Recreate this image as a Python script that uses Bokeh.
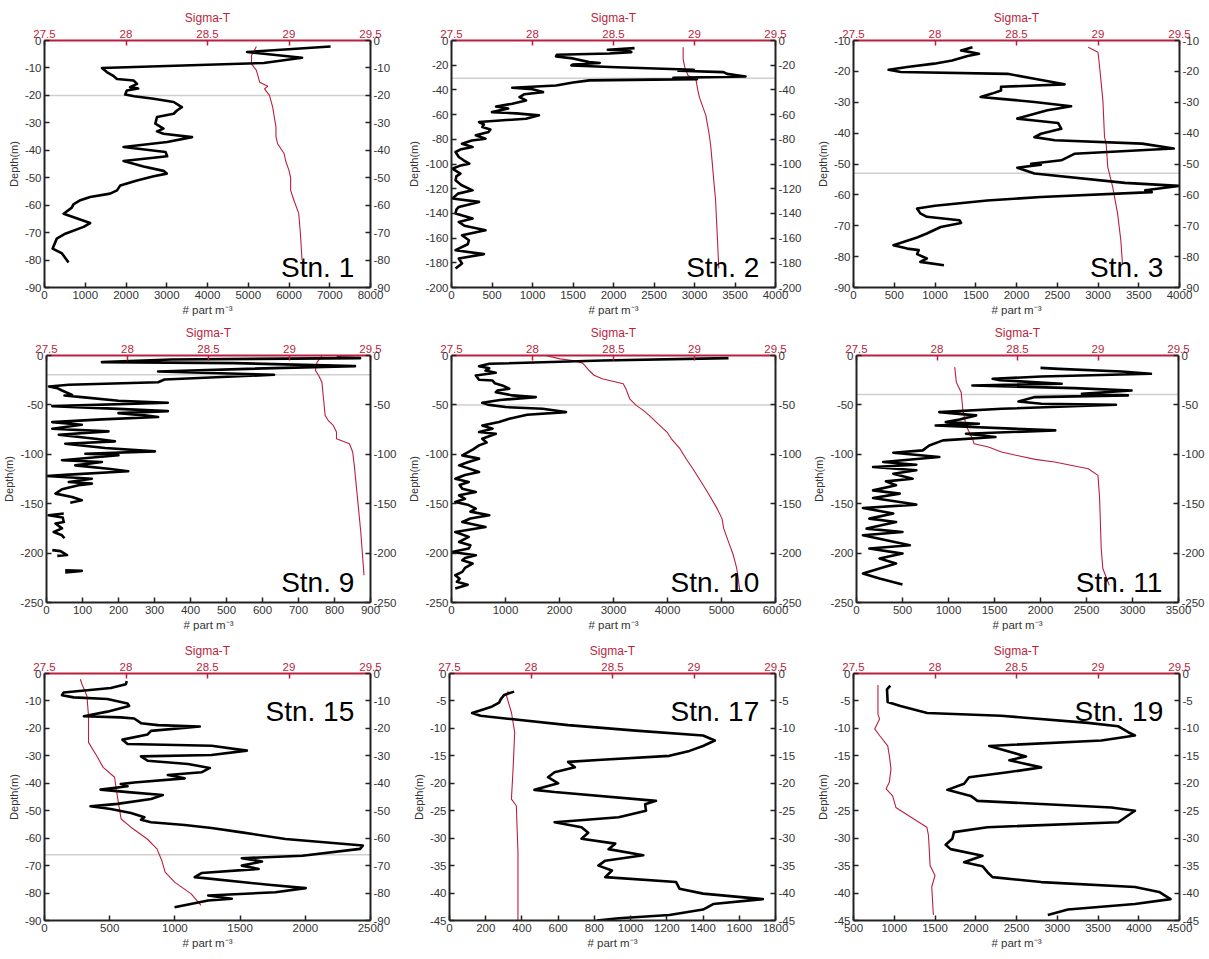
import numpy as np
from bokeh.plotting import figure
from bokeh.models import Range1d, LinearAxis, FixedTicker, CustomJSTickFormatter, Span, Label
from bokeh.layouts import column, row
from bokeh.embed import file_html
from bokeh.resources import INLINE

NAN = float("nan")

# ---------------- data ----------------
STATIONS = ["Stn. 1", "Stn. 2", "Stn. 3", "Stn. 9", "Stn. 10", "Stn. 11", "Stn. 15", "Stn. 17", "Stn. 19"]

stn1_depth = [-2.2, -4.2, -6.3, -8.2, -10.0, -11.5, -13.0, -14.0, -14.6, -15.8, -17.0, -17.5, -18.2, -19.7, -20.3, -21.2, -22.4, -24.3, -25.5, -26.7, -27.9, -30.3, -32.1, -33.1, -34.0, -35.2, -37.0, -38.8, -40.6, -42.2, -43.9, -45.9, -47.5, -48.5, -49.5, -51.0, -52.8, -54.6, -55.8, -57.0, -58.2, -59.7, -60.9, -63.1, -66.5, -67.9, -70.4, -72.2, -75.8, -77.6, -80.9]
stn1_conc = [7020, 4970, 6320, 5380, 1410, 1530, 1700, 1780, 2190, 2270, 2100, 2300, 2020, 1980, 2200, 2680, 3170, 3370, 3250, 3170, 2760, 2720, 2920, 2760, 2920, 3620, 3010, 1940, 2970, 3010, 1940, 2430, 2920, 3000, 2680, 2270, 1860, 1780, 1610, 1120, 880, 710, 670, 470, 1120, 960, 510, 300, 200, 430, 590]
stn1_sig_depth = [-2.2, -5.5, -8.5, -10.9, -13, -15.2, -16.7, -17.6, -20, -24.3, -28, -31.5, -35, -37.6, -41.2, -44, -47.3, -50, -54.6, -58.2, -63.1, -70.4, -80]
stn1_sig = [28.80, 28.77, 28.77, 28.80, 28.81, 28.82, 28.87, 28.85, 28.88, 28.90, 28.91, 28.92, 28.92, 28.93, 28.97, 28.98, 29.00, 29.01, 29.01, 29.03, 29.06, 29.07, 29.08]

stn2_depth = [-6.2, -7.5, -8.5, -9.4, -10.5, -11.5, -12.9, -14.5, -17.5, -18.2, -19.4, -20.2, -21.6, -23.7, -24.5, -25.6, -27, -29.1, -30.2, -31.3, -32.3, -34, -36.4, -38.3, -39.5, -41.8, -43.5, -45.8, -48.5, -51.2, -53.4, -55, -58, -59, -60.6, -63.3, -66, -68, -70, -72, -74, -76.8, -79.5, -81, -83.6, -86.3, -88, -90.3, -94.3, -97, -99.7, -101.5, -103.8, -107.8, -110, -113.2, -117, -121.3, -124, -128, -130.7, -134.8, -137, -140, -144.2, -146.9, -150, -153.6, -157.7, -161.7, -165, -169.8, -173, -176.5, -180.6, -184.6]
stn2_conc = [2260, 1930, 2200, 2220, 1950, 1300, 1290, 1500, 1700, 1830, 1500, 1480, 2040, 2990, 2800, 3360, 3400, 3630, 2740, 3030, 1700, 1500, 1290, 750, 1000, 1130, 900, 840, 920, 750, 550, 700, 500, 800, 1080, 920, 340, 400, 380, 480, 460, 300, 420, 250, 130, 260, 120, 50, 90, 150, 220, 100, 10, 110, 60, 50, 120, 260, 80, 10, 340, 90, 60, 50, 260, 90, 160, 420, 130, 215, 200, 50, 400, 90, 130, 50]
stn2_sig_depth = [-5.4, -15, -21.6, -25, -28.3, -30.5, -32.3, -40, -45.8, -60.6, -75.5, -85, -99.7, -115, -129, -156, -184.6]
stn2_sig = [28.93, 28.93, 28.94, 28.95, 28.96, 28.99, 29.01, 29.02, 29.03, 29.07, 29.09, 29.10, 29.11, 29.12, 29.13, 29.14, 29.15]

stn3_depth = [-12.2, -13.2, -14.3, -15.0, -16.5, -17.5, -18.6, -19.5, -20.2, -20.8, -22.4, -24.2, -25.0, -26.2, -27.2, -28.3, -28.9, -29.9, -31.3, -32.6, -35.3, -35.9, -36.7, -38.6, -40.2, -41.3, -42.3, -43.4, -45.0, -46.7, -48.8, -49.9, -50.2, -51.2, -53.1, -56.1, -57.1, -58.5, -59.1, -60.7, -61.8, -63.5, -64.4, -66.0, -67.1, -68.2, -69.1, -70.4, -72.5, -73.8, -76.3, -77.4, -77.9, -79.2, -80.6, -81.7, -82.8]
stn3_conc = [1460, 1320, 1540, 1400, 1210, 990, 660, 430, 580, 1890, 2220, 2590, 1810, 1810, 1700, 1560, 1810, 2220, 2670, 2380, 2010, 2220, 2510, 2550, 2300, 2220, 2470, 3540, 3930, 2710, 2550, 2180, 2300, 2010, 2220, 3330, 3990, 3580, 3660, 2300, 1640, 1000, 780, 820, 900, 1300, 1320, 1070, 900, 780, 490, 660, 800, 780, 900, 820, 1110]
stn3_sig_depth = [-12.2, -13.8, -18.6, -29.4, -41.3, -43.4, -51, -57.4, -66, -74.7, -82.2]
stn3_sig = [28.94, 29.00, 29.01, 29.03, 29.04, 29.05, 29.06, 29.09, 29.12, 29.14, 29.15]

stn9_depth = [-1.7, -2.7, -4, -6.7, -7.7, -10.8, -13.5, -16.2, -19.5, -24.3, -27, -29.6, -31.3, -33, -35.4, -39.8, -40.5, -42.1, -45.8, -47.8, -51.2, -54, -56.3, -58.3, -60.6, -62.3, -64.7, -67.4, -70.1, -74.1, -76.8, -80.2, -84.2, -86.9, -89.3, -93.7, -97, -99.4, -101, -106, -107.8, -111.2, -114.6, -117.2, -120.6, -122, -124.7, -128, -129.7, -131.4, -135.4, -139.8, -143.2, -146.6, -149, NAN, -160, -161.7, -164, -168.5, -170, -175, -178.6, -182, -185, NAN, -197, -198, -202, -202.8, NAN, -217.3, -218, -219.7]
stn9_conc = [806, 871, 347, 154, 521, 857, 558, 310, 632, 328, 310, 62, 7, 30, 43, 71, 50, 98, 200, 337, 16, 200, 337, 200, 273, 310, 154, 16, 98, 16, 172, 34, 135, 190, 52, 163, 301, 108, 200, 43, 154, 80, 172, 227, 62, 0, 126, 62, 126, 89, 43, 25, 71, 98, 66, NAN, 48, 6, 45, 48, 25, 43, 20, 43, 50, NAN, 16, 39, 57, 30, NAN, 52, 98, 52]
stn9_sig_depth = [-0.7, -6.7, -15.2, -20.2, -27, -43.8, -60.6, -66, -70.8, -77.5, -84.2, -89.3, -97.7, -111.2, -144.9, -178.6, -222.4]
stn9_sig = [29.20, 29.17, 29.16, 29.18, 29.20, 29.21, 29.22, 29.24, 29.27, 29.29, 29.29, 29.37, 29.39, 29.40, 29.42, 29.44, 29.46]

stn10_depth = [-2.7, -5, -8.4, -10.8, -13, -15.2, -17.5, -20.2, -24.6, -25.3, -28, -30.3, -33.7, -35.5, -37.1, -40.4, -42.1, -45, -47.8, -50, -52.2, -53.9, -57.3, -60, -64, -67.4, -70.8, -74.1, -77.5, -79.2, -84.2, -88, -91, -95, -98, -101.1, -104.4, -108, -111.2, -114, -117.9, -121, -124.7, -128, -131, -134.8, -138.1, -141.5, -145, -148.2, -151, -155, -158, -161.7, -165, -168.5, -173.5, -178.6, -183.6, -188.7, -192, -195.4, -198.8, -202.2, -205, -207.2, -210.6, -215, -219, -222.4, -226, -229.1, -232, -235.8]
stn10_conc = [5130, 2800, 700, 510, 700, 630, 820, 450, 510, 760, 800, 940, 1070, 850, 820, 1130, 1560, 900, 570, 700, 1000, 1690, 2120, 1400, 1070, 880, 570, 760, 510, 820, 570, 650, 510, 400, 300, 200, 510, 300, 140, 300, 510, 250, 70, 320, 150, 200, 450, 140, 250, 70, 300, 450, 350, 700, 350, 200, 630, 70, 320, 140, 350, 320, 10, 450, 250, 200, 390, 250, 200, 70, 150, 100, 300, 70]
stn10_sig_depth = [0, -3.4, -5, -7.7, -15.2, -20, -23.6, -28.6, -35, -43.8, -50.5, -55, -60.6, -70, -77.5, -85, -94.3, -105, -114.6, -125, -138.1, -155, -165.1, -175, -188.7, -202.2, -215, -225.7, -239.2]
stn10_sig = [28.08, 28.17, 28.25, 28.31, 28.35, 28.38, 28.43, 28.56, 28.58, 28.60, 28.64, 28.68, 28.72, 28.78, 28.83, 28.86, 28.91, 28.95, 28.99, 29.03, 29.08, 29.14, 29.17, 29.18, 29.21, 29.24, 29.26, 29.27, 29.28]

stn11_depth = [-12.5, -13.5, -16.2, -18.5, -21.2, -23.6, -25, -28.6, -30.3, -33, -35.4, -38.7, -40.4, -42.1, -46.5, -48.9, -49.9, -53.9, -57.3, -60.6, -64.7, -67.4, -69.1, -70.8, -75.8, -79.2, -82.5, -85.9, -91, -96, -98.4, -102.8, -107.8, -110.5, -112.9, -116.2, -119.6, -124.7, -127.4, -131.4, -136.5, -139.8, -144.2, -150.9, -154.3, -160, -165.1, -168.5, -175.2, -178.6, -182, -192, -195.4, -200.5, -205.5, -210.6, -220.7, -225.7, -231.8]
stn11_conc = [2000, 2200, 2880, 3200, 2010, 1480, 1560, 2230, 1260, 2370, 2990, 2450, 2950, 1940, 1760, 2010, 2820, 1580, 900, 1300, 1120, 970, 1330, 860, 2160, 1190, 1510, 940, 790, 720, 400, 900, 290, 650, 180, 650, 400, 610, 320, 430, 180, 470, 180, 650, 70, 400, 140, 430, 110, 500, 70, 580, 140, 500, 250, 430, 70, 250, 500]
stn11_sig_depth = [-11.8, -27, -37.1, -53.9, -70.8, -84.2, -89.3, -92.7, -97.7, -101, -105.1, -107.8, -114.6, -121.3, -144.9, -195.4, -215.6, -232.5]
stn11_sig = [28.11, 28.12, 28.15, 28.16, 28.18, 28.22, 28.23, 28.32, 28.40, 28.49, 28.61, 28.73, 28.94, 29.00, 29.01, 29.02, 29.03, 29.07]

stn15_depth = [-2.8, -3.9, -5.3, -6.9, -7.9, -8.7, -9.3, -10.9, -11.8, -13.9, -15.6, -16.0, -16.4, -18.1, -18.8, -19.3, -20.9, -22.2, -24.1, -25.7, -26.3, -28.1, -29.7, -30.2, -31.8, -33.0, -34.4, -36.0, -37.0, -38.2, -39.7, -40.3, -41.1, -42.3, -43.3, -44.3, -45.7, -47.5, -48.4, -49.4, -50.8, -52.4, -53.3, -54.2, -55.2, -56.3, -57.9, -60.3, -62.7, -63.9, -66.4, -67.3, -68.5, -70.0, -71.2, -72.7, -74.2, -77.0, -78.2, -79.7, -80.9, -82.1, -82.7, -85.2]
stn15_conc = [631, 624, 508, 147, 134, 224, 482, 637, 649, 482, 302, 585, 688, 740, 869, 1191, 817, 791, 598, 637, 1281, 1552, 1281, 740, 791, 1101, 1268, 1204, 946, 1075, 688, 585, 637, 430, 663, 907, 817, 559, 353, 508, 663, 766, 740, 817, 1075, 1281, 1513, 1848, 2441, 2420, 1977, 1513, 1668, 1513, 1642, 1204, 1152, 1719, 2003, 1771, 1255, 1436, 1255, 997]
stn15_sig_depth = [-2.1, -3.9, -8.1, -15.4, -25.1, -30, -34.2, -37.8, -42.1, -49.4, -53, -56, -60.3, -63.9, -68.2, -72.4, -76.1, -80.3, -84.5]
stn15_sig = [27.72, 27.73, 27.76, 27.77, 27.77, 27.82, 27.86, 27.93, 27.94, 27.96, 27.97, 28.03, 28.13, 28.19, 28.22, 28.24, 28.30, 28.40, 28.46]

stn17_depth = [-3.3, -3.9, -4.7, -5.3, -6.0, -6.5, -7.2, -7.7, -8.3, -9.4, -10.4, -11.3, -12.2, -13.2, -14.1, -15.0, -15.7, -16.1, -17.1, -18.0, -18.9, -20.0, -21.2, -21.6, -23.2, -23.8, -25.0, -26.2, -27.1, -28.0, -29.0, -30.1, -31.0, -32.0, -33.1, -34.1, -35.0, -35.9, -37.1, -38.0, -39.2, -40.1, -41.1, -42.0, -43.0, -44.0, -44.6, -45.0]
stn17_conc = [357, 302, 283, 274, 236, 190, 125, 171, 339, 655, 1028, 1400, 1465, 1400, 1325, 1214, 841, 655, 692, 580, 544, 600, 469, 580, 1140, 1080, 1085, 934, 580, 729, 766, 729, 915, 878, 1070, 860, 822, 897, 860, 1251, 1270, 1400, 1730, 1456, 1400, 1214, 934, 813]
stn17_sig_depth = [-3.2, -4.1, -7.1, -10.7, -17.4, -22.9, -24.1, -32.6, -45]
stn17_sig = [27.86, 27.85, 27.88, 27.90, 27.89, 27.88, 27.91, 27.92, 27.92]

stn19_depth = [-2.2, -2.9, -5.2, -5.9, -7.2, -7.7, -9.0, -9.6, -10.7, -11.3, -12.2, -13.2, -15.1, -15.8, -17.1, -18.0, -18.9, -20.1, -21.2, -22.3, -23.2, -24.4, -25.0, -27.1, -28.0, -28.9, -30.1, -31.2, -32.0, -33.2, -34.4, -35.1, -36.2, -37.1, -38.0, -38.9, -39.8, -41.1, -42.0, -43.0, -44.0]
stn19_conc = [952, 911, 919, 1076, 1404, 2309, 3378, 3745, 3871, 3953, 3542, 2165, 2617, 2412, 2802, 2391, 1918, 1857, 1651, 1939, 2021, 3665, 3953, 3748, 2144, 1733, 1713, 1631, 1692, 2083, 1857, 2083, 2144, 2206, 2802, 3953, 4250, 4390, 3953, 3131, 2884]
stn19_sig_depth = [-2.1, -7.4, -8.3, -9.5, -10.1, -11.3, -13.2, -15, -17.4, -19.8, -21, -22.3, -24.4, -26.5, -28, -29.5, -35, -36.8, -38.9, -44]
stn19_sig = [27.65, 27.65, 27.66, 27.64, 27.63, 27.66, 27.71, 27.72, 27.73, 27.72, 27.70, 27.74, 27.76, 27.87, 27.95, 27.96, 27.97, 28.00, 27.98, 27.99]

CONC_DEPTHS = [stn1_depth, stn2_depth, stn3_depth, stn9_depth, stn10_depth, stn11_depth, stn15_depth, stn17_depth, stn19_depth]
CONCS = [stn1_conc, stn2_conc, stn3_conc, stn9_conc, stn10_conc, stn11_conc, stn15_conc, stn17_conc, stn19_conc]
SIG_DEPTHS = [stn1_sig_depth, stn2_sig_depth, stn3_sig_depth, stn9_sig_depth, stn10_sig_depth, stn11_sig_depth, stn15_sig_depth, stn17_sig_depth, stn19_sig_depth]
SIGS = [stn1_sig, stn2_sig, stn3_sig, stn9_sig, stn10_sig, stn11_sig, stn15_sig, stn17_sig, stn19_sig]

# mixed-layer depth (grey line); None = not drawn
MLD = [-20, -30.5, -53, -19.5, -50, -39.5, -66, None, None]

# axis limits and tick steps
X_MIN = [0, 0, 0, 0, 0, 0, 0, 0, 500]
X_MAX = [8000, 4000, 4000, 900, 6000, 3500, 2500, 1800, 4500]
X_STEP = [1000, 500, 500, 100, 1000, 500, 500, 200, 500]
Y_MIN = [-90, -200, -90, -250, -250, -250, -90, -45, -45]
Y_MAX = [0, 0, -10, 0, 0, 0, 0, 0, 0]
Y_STEP = [10, 20, 10, 50, 50, 50, 10, 5, 5]
SIG_TICKS = [27.5, 28, 28.5, 29, 29.5]
LABEL_AT_TOP = [False, False, False, False, False, False, True, True, True]

# ---------------- style / layout ----------------
RED = "#BA1F3D"
AXC = "#222222"
TXT = "#333333"
FONT = "Liberation Sans"
FRAME_W = 326
FRAME_H = 247
COL_W = [405, 405, 397]
COL_L = [44, 44, 43]
ROW_H = [318, 315, 320]
ROW_T = [40, 37, 40]
FMT = "return String(Math.round(tick*100)/100);"


def style_axis(ax, color, label_color):
    ax.axis_line_color = color
    ax.axis_line_width = 2
    ax.major_tick_line_color = color
    ax.major_tick_line_width = 1.5
    ax.major_tick_in = 5
    ax.major_tick_out = 0
    ax.minor_tick_line_color = None
    ax.major_label_text_font = FONT
    ax.major_label_text_font_size = "11.5px"
    ax.major_label_text_color = label_color
    ax.major_label_standoff = 3
    ax.axis_label_text_font = FONT
    ax.axis_label_text_font_size = "11.5px"
    ax.axis_label_text_font_style = "normal"
    ax.axis_label_text_color = label_color
    ax.axis_label_standoff = 2
    ax.formatter = CustomJSTickFormatter(code=FMT)


def make_panel(k):
    col = k % 3
    rw = k // 3
    x0, x1 = X_MIN[k], X_MAX[k]
    y0, y1 = Y_MIN[k], Y_MAX[k]
    p = figure(width=COL_W[col], height=ROW_H[rw],
               x_range=Range1d(x0, x1), y_range=Range1d(y0, y1),
               output_backend="svg", toolbar_location=None, tools="",
               min_border_left=COL_L[col],
               min_border_right=COL_W[col] - COL_L[col] - FRAME_W,
               min_border_top=ROW_T[rw],
               min_border_bottom=ROW_H[rw] - ROW_T[rw] - FRAME_H)
    p.extra_x_ranges = {"sig": Range1d(SIG_TICKS[0], SIG_TICKS[-1])}
    p.grid.visible = False
    p.outline_line_color = None
    p.background_fill_color = "white"
    p.border_fill_color = "white"

    xt = list(np.arange(x0, x1 + 0.5 * X_STEP[k], X_STEP[k]))
    yt = list(np.arange(y0, y1 + 0.5 * Y_STEP[k], Y_STEP[k]))

    p.xaxis.ticker = FixedTicker(ticks=xt)
    p.xaxis.axis_label = "# part m\u207b\u00b3"
    style_axis(p.xaxis[0], AXC, TXT)
    p.yaxis.ticker = FixedTicker(ticks=yt)
    p.yaxis.axis_label = "Depth(m)"
    style_axis(p.yaxis[0], AXC, TXT)
    p.yaxis[0].axis_label_text_font_size = "11px"

    right = LinearAxis(ticker=FixedTicker(ticks=yt))
    style_axis(right, AXC, TXT)
    p.add_layout(right, "right")

    top = LinearAxis(x_range_name="sig", ticker=FixedTicker(ticks=SIG_TICKS), axis_label="Sigma-T")
    style_axis(top, RED, RED)
    top.axis_label_text_font_size = "12px"
    p.add_layout(top, "above")

    if MLD[k] is not None:
        p.add_layout(Span(location=MLD[k], dimension="width", line_color="#cfcfcf",
                          line_width=1.5, level="underlay"))

    p.line(x=np.array(SIGS[k], dtype=float), y=np.array(SIG_DEPTHS[k], dtype=float),
           x_range_name="sig", line_color=RED, line_width=1.1)
    p.line(x=np.array(CONCS[k], dtype=float), y=np.array(CONC_DEPTHS[k], dtype=float),
           line_color="black", line_width=2.6, line_join="round")

    lx = x1 - 0.05 * (x1 - x0)
    if LABEL_AT_TOP[k]:
        ly = y1 - 0.155 * (y1 - y0)
    else:
        ly = y0 + 0.08 * (y1 - y0)
    p.add_layout(Label(x=lx, y=ly, text=STATIONS[k], text_align="right",
                       text_baseline="alphabetic", text_font=FONT,
                       text_font_size="28px", text_color="black"))
    return p


panels = [make_panel(k) for k in range(9)]
layout = column(row(*panels[0:3]), row(*panels[3:6]), row(*panels[6:9]))

open("out.html", "w").write(file_html(layout, INLINE))
